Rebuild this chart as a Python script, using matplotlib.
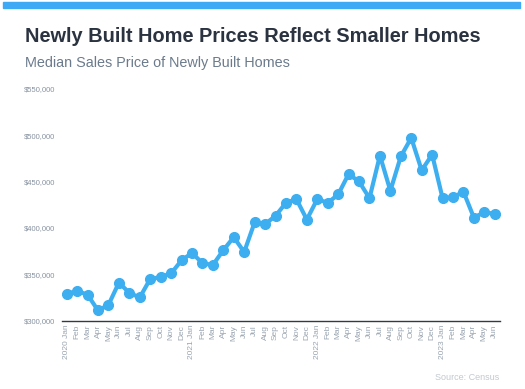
import matplotlib
matplotlib.use("Agg")
import matplotlib.pyplot as plt
from matplotlib.patches import Rectangle

plt.rcParams["font.family"] = ["Liberation Sans", "DejaVu Sans"]

months = ["Jan", "Feb", "Mar", "Apr", "May", "Jun", "Jul", "Aug", "Sep", "Oct", "Nov", "Dec"]
years = [2020, 2021, 2022, 2023]
tick_labels = []
for y in years:
    for m in months:
        tick_labels.append(f"{y} {m}" if m == "Jan" else m)
tick_labels = tick_labels[:42]

prices = [329000, 332000, 328000, 311000, 317000, 341000, 330000, 325000, 345000, 347000, 351000, 365000,
          373000, 362000, 360000, 376000, 390000, 374000, 406000, 404000, 413000, 427000, 431000, 409000,
          431000, 427000, 436000, 458000, 450000, 432000, 478000, 440000, 477000, 497000, 462000, 479000,
          432000, 433000, 439000, 411000, 417000, 415000]

y_ticks = [300000, 350000, 400000, 450000, 500000, 550000]

fig = plt.figure(figsize=(5.25, 3.89), dpi=100)
fig.patches.append(Rectangle((3 / 525, 1 - 7.5 / 389), 517 / 525, 5.5 / 389, transform=fig.transFigure,
                             color="#3fa9f5", zorder=0))
fig.text(25 / 525, 1 - 36 / 389, "Newly Built Home Prices Reflect Smaller Homes", fontsize=14.4,
         fontweight="bold", color="#2b3340", va="center", ha="left")
fig.text(25 / 525, 1 - 63 / 389, "Median Sales Price of Newly Built Homes", fontsize=10.4,
         color="#6b7b8c", va="center", ha="left")
fig.text(499 / 525, 1 - 377 / 389, "Source: Census", fontsize=6.5, color="#c3c9cf",
         va="center", ha="right")

ax = fig.add_axes([62 / 525, 1 - 320.7 / 389, 438 / 525, (320.7 - 88.7) / 389])
x = list(range(len(prices)))
ax.plot(x, prices, color="#3daef0", lw=3.0, marker="o", markersize=7, solid_joinstyle="round")
ax.set_ylim(300000, 550000)
ax.set_xlim(-0.45, 41.5)
ax.set_yticks(y_ticks)
ax.set_yticklabels([f"${v:,}" for v in y_ticks], fontsize=5.5, color="#8792a0")
ax.set_xticks(x)
ax.set_xticklabels(tick_labels, rotation=90, fontsize=6, color="#9aa5b1")
ax.tick_params(axis="both", length=0, pad=3)
ax.tick_params(axis="y", pad=5)
for s in ["top", "right", "left"]:
    ax.spines[s].set_visible(False)
ax.spines["bottom"].set_color("#333a44")
ax.spines["bottom"].set_linewidth(1.0)

fig.savefig("out.png", dpi=100, facecolor="white")
